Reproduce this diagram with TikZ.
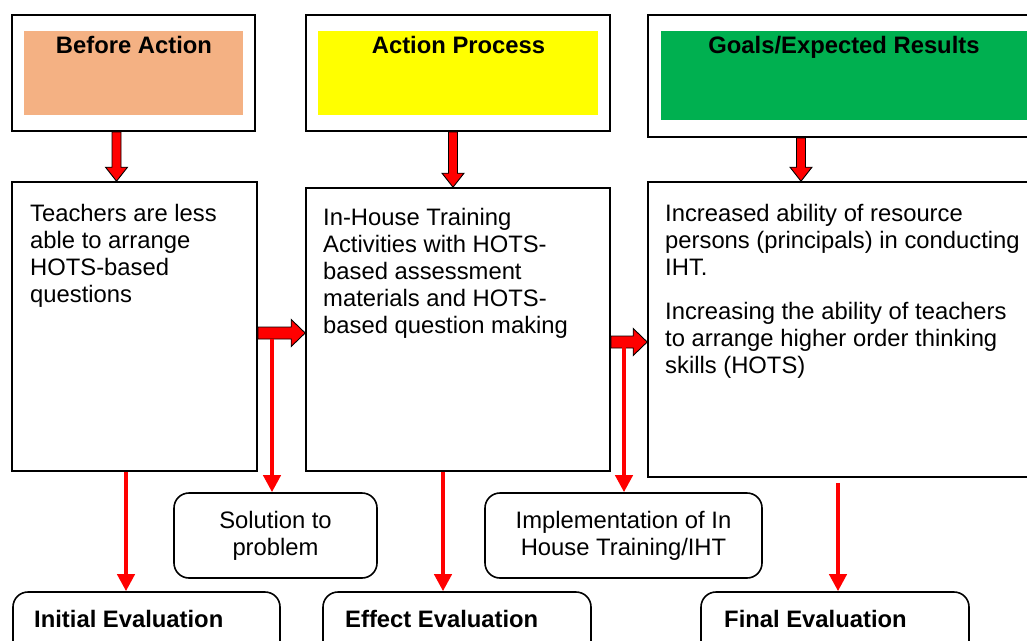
\documentclass[tikz,border=0pt]{standalone}
\usepackage{fontspec}
\setmainfont{Liberation Sans}
\usetikzlibrary{calc,arrows.meta}

\definecolor{peach}{RGB}{244,177,131}
\definecolor{sun}{RGB}{255,255,0}
\definecolor{leaf}{RGB}{0,176,80}

\tikzset{
  every node/.style={font=\fontsize{23.8}{27}\selectfont, inner sep=0pt},
  framebox/.style={draw, line width=1.6pt, fill=white},
  colorbox/.style={fill=#1},
  headtext/.style={font=\fontsize{23.8}{27}\selectfont\bfseries, anchor=base},
  bodytext/.style={align=left, anchor=north west},
  roundbox/.style={draw, line width=1.6pt, rounded corners=15pt, align=center},
  fatarrow/.style={fill=red, draw=black, line width=0.9pt, line join=miter},
  redline/.style={draw=red, line width=4pt, -{Triangle[length=17pt,width=17pt]}}
}

% block arrow going down from one box to the next, at a given x
\newcommand{\fatdown}[3]{%
  \filldraw[fatarrow] let \p1=(#3,0 |- #1.south), \p2=(#3,0 |- #2.north) in
    (\x1-4.5pt,\y1) -- (\x1+4.5pt,\y1) -- (\x1+4.5pt,\y2+14pt) -- (\x1+11pt,\y2+14pt)
    -- (\x2,\y2) -- (\x1-11pt,\y2+14pt) -- (\x1-4.5pt,\y2+14pt) -- cycle;}
% block arrow going right between two boxes, at a given y
\newcommand{\fatright}[3]{%
  \filldraw[fatarrow] let \p1=(#1.east |- 0,#3), \p2=(#2.west |- 0,#3) in
    (\x1,\y1+6pt) -- (\x2-14pt,\y1+6pt) -- (\x2-14pt,\y1+13.5pt) -- (\x2,\y1)
    -- (\x2-14pt,\y1-13.5pt) -- (\x2-14pt,\y1-6pt) -- (\x1,\y1-6pt) -- cycle;}

\begin{document}
\begin{tikzpicture}[x=1pt, y=-1pt]
  \useasboundingbox (0,0) rectangle (1027,640);
  \clip (0,0) rectangle (1027,640);

  % headers
  \node[framebox, minimum width=243, minimum height=116] (before) at (133.5,73) {};
  \node[colorbox=peach, minimum width=219, minimum height=84] (beforefill) at (133.5,73) {};
  \node[headtext] (beforelbl) at (134,53) {Before Action};

  \node[framebox, minimum width=304, minimum height=116] (action) at (458,73) {};
  \node[colorbox=sun, minimum width=280, minimum height=84] (actionfill) at (458,73) {};
  \node[headtext] (actionlbl) at (458.5,53) {Action Process};

  \node[framebox, minimum width=397, minimum height=122] (goals) at (846.5,76) {};
  \node[colorbox=leaf, minimum width=371, minimum height=89] (goalsfill) at (846.5,75.5) {};
  \node[headtext] (goalslbl) at (844,53) {Goals/Expected Results};

  % main boxes
  \node[framebox, minimum width=245, minimum height=289] (teach) at (134.5,326.5) {};
  \node[bodytext] (teachtxt) at (30,204) {Teachers are less\\able to arrange\\HOTS-based\\questions};

  \node[framebox, minimum width=304, minimum height=283] (iht) at (458,329.5) {};
  \node[bodytext] (ihttxt) at (323,208) {In-House Training\\Activities with HOTS-\\based assessment\\materials and HOTS-\\based question making};

  \node[framebox, minimum width=397, minimum height=295] (result) at (846.5,329.5) {};
  \node[bodytext] (resulttxt) at (665,204) {Increased ability of resource\\persons (principals) in conducting\\IHT.\\[17pt]Increasing the ability of teachers\\to arrange higher order thinking\\skills (HOTS)};

  % rounded boxes
  \node[roundbox, minimum width=203, minimum height=85] (sol) at (275.5,535.5) {Solution to\\problem};
  \node[roundbox, minimum width=277, minimum height=85] (impl) at (623.5,535.5) {Implementation of In\\House Training/IHT};

  \node[roundbox, minimum width=267, minimum height=78] (init) at (146.5,631) {};
  \node[headtext, anchor=base west] (initlbl) at (34,627) {Initial Evaluation};
  \node[roundbox, minimum width=268, minimum height=78] (effect) at (457,631) {};
  \node[headtext, anchor=base west] (effectlbl) at (345,627) {Effect Evaluation};
  \node[roundbox, minimum width=268, minimum height=78] (final) at (835,631) {};
  \node[headtext, anchor=base west] (finallbl) at (724,627) {Final Evaluation};

  % block arrows
  \fatdown{before}{teach}{116.5}
  \fatdown{action}{iht}{453}
  \fatdown{goals}{result}{801}
  \fatright{teach}{iht}{333}
  \fatright{iht}{result}{342}

  % thin red arrows
  \coordinate (afoot) at (272,339);
  \coordinate (bfoot) at (624,347);
  \draw[redline] (126,0 |- teach.south) -- (126,0 |- init.north);
  \draw[redline] (afoot) -- (afoot |- sol.north);
  \draw[redline] (443,0 |- iht.south) -- (443,0 |- effect.north);
  \draw[redline] (bfoot) -- (bfoot |- impl.north);
  \draw[redline, shorten <=5pt] (838,0 |- result.south) -- (838,0 |- final.north);
\end{tikzpicture}
\end{document}
